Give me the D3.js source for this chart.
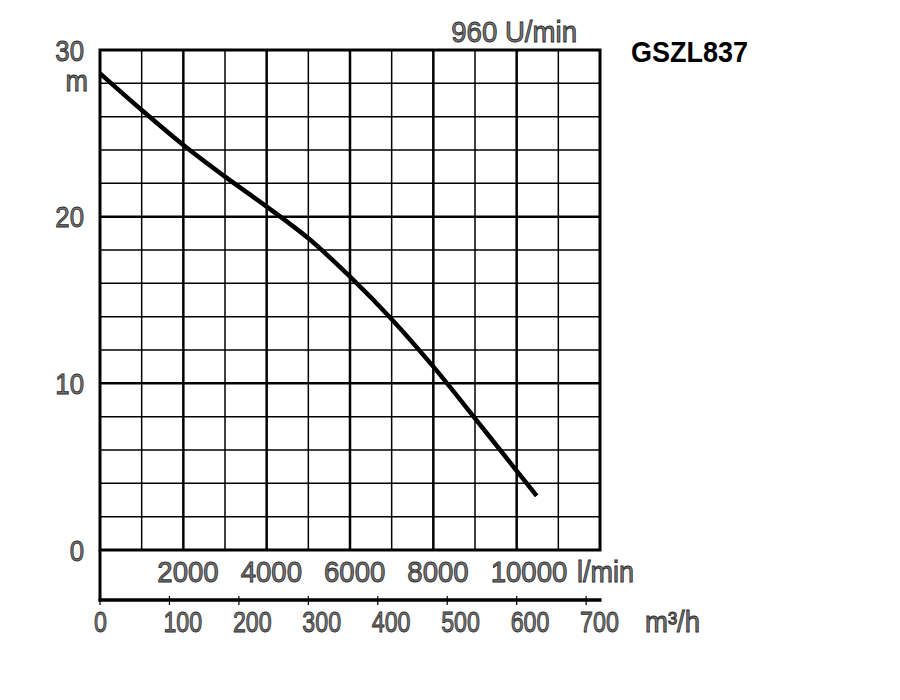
<!DOCTYPE html>
<html>
<head>
<meta charset="utf-8">
<script src="https://cdn.jsdelivr.net/npm/d3@7"></script>
<style>
  body { margin: 0; background: #fff; }
  text { font-family: Arial, "Liberation Sans", sans-serif; }
  .lbl { fill: #7a7a7a; stroke: #2a2a2a; stroke-width: 0.9px; }
</style>
</head>
<body>
<div id="chart"></div>
<script>
// pump curve GSZL837, 960 U/min
const flowLmin = [0, 1000, 2000, 3000, 4000, 5000, 6000, 7000, 8000, 9000, 10000, 10480];
const headM = [28.6, 26.4, 24.3, 22.4, 20.6, 18.7, 16.4, 13.85, 11.0, 7.9, 4.75, 3.25];

const headTicks = [0, 10, 20, 30];
const lminTicks = [2000, 4000, 6000, 8000, 10000];
const m3hTicks = [0, 100, 200, 300, 400, 500, 600, 700];

const width = 900, height = 700;
const plotLeft = 100, plotRight = 600, plotTop = 50, plotBottom = 550, bandBottom = 600;

const svg = d3.select("#chart")
  .append("svg")
  .attr("width", width)
  .attr("height", height);

const x = d3.scaleLinear().domain([0, 12000]).range([plotLeft, plotRight]);
const xm3 = d3.scaleLinear().domain([0, 720]).range([plotLeft, plotRight]);
const y = d3.scaleLinear().domain([0, 30]).range([plotBottom, plotTop]);

// grid: minor every 1000 l/min and 2 m, major every 2000 l/min and 10 m
const grid = svg.append("g");
d3.range(1000, 12000, 1000).forEach((v) => {
  grid.append("line")
    .attr("x1", x(v)).attr("x2", x(v))
    .attr("y1", y(30)).attr("y2", y(0))
    .attr("stroke", "#000")
    .attr("stroke-width", v % 2000 === 0 ? 2.5 : 1.5);
});
d3.range(2, 30, 2).forEach((v) => {
  grid.append("line")
    .attr("x1", x(0)).attr("x2", x(12000))
    .attr("y1", y(v)).attr("y2", y(v))
    .attr("stroke", "#000")
    .attr("stroke-width", v % 10 === 0 ? 2.5 : 1.5);
});

// frame
svg.append("rect")
  .attr("x", x(0)).attr("y", y(30))
  .attr("width", x(12000) - x(0))
  .attr("height", y(0) - y(30))
  .attr("fill", "none")
  .attr("stroke", "#000")
  .attr("stroke-width", 3);

// lower flow band
svg.append("line")
  .attr("x1", x(0)).attr("x2", x(0))
  .attr("y1", y(0)).attr("y2", bandBottom + 1.5)
  .attr("stroke", "#000").attr("stroke-width", 3);
svg.append("line")
  .attr("x1", x(0) - 1.5).attr("x2", x(12000) + 1.5)
  .attr("y1", bandBottom).attr("y2", bandBottom)
  .attr("stroke", "#000").attr("stroke-width", 3.5);

// m3/h ticks
svg.selectAll(".m3tick")
  .data(m3hTicks)
  .enter()
  .append("line")
  .attr("class", "m3tick")
  .attr("x1", (d) => xm3(d)).attr("x2", (d) => xm3(d))
  .attr("y1", bandBottom - 4).attr("y2", bandBottom + 5)
  .attr("stroke", "#000").attr("stroke-width", 1.2);

// pump curve
const line = d3.line()
  .x((d, i) => x(flowLmin[i]))
  .y((d) => y(d))
  .curve(d3.curveCatmullRom.alpha(0.5));

svg.append("path")
  .datum(headM)
  .attr("fill", "none")
  .attr("stroke", "#000")
  .attr("stroke-width", 4.5)
  .attr("d", line);

// head labels
svg.selectAll(".ylab")
  .data(headTicks)
  .enter()
  .append("text")
  .attr("class", "lbl ylab")
  .attr("transform", (d) => `translate(84,${y(d) + 10.5}) scale(0.86,1)`)
  .attr("text-anchor", "end")
  .attr("font-size", 30)
  .text((d) => d);

svg.append("text")
  .attr("class", "lbl")
  .attr("transform", "translate(88,91) scale(0.9,1)")
  .attr("text-anchor", "end")
  .attr("font-size", 30)
  .text("m");

// l/min labels
svg.selectAll(".lminlab")
  .data(lminTicks)
  .enter()
  .append("text")
  .attr("class", "lbl lminlab")
  .attr("transform", (d) => `translate(${x(d) - 26},582) scale(0.92,1)`)
  .attr("font-size", 30)
  .text((d) => d);

svg.append("text")
  .attr("class", "lbl")
  .attr("transform", "translate(577,582) scale(0.9,1)")
  .attr("font-size", 30)
  .text("l/min");

// m3/h labels
svg.selectAll(".m3lab")
  .data(m3hTicks)
  .enter()
  .append("text")
  .attr("class", "lbl m3lab")
  .attr("transform", (d) => `translate(${xm3(d) - 6},632) scale(0.8,1)`)
  .attr("font-size", 29)
  .text((d) => d);

svg.append("text")
  .attr("class", "lbl")
  .attr("transform", "translate(645,632) scale(0.95,1)")
  .attr("font-size", 29)
  .text("m³/h");

// speed and model
svg.append("text")
  .attr("class", "lbl")
  .attr("transform", "translate(577,41.5) scale(0.92,1)")
  .attr("text-anchor", "end")
  .attr("font-size", 30)
  .text("960 U/min");

svg.append("text")
  .attr("transform", "translate(631,61.5) scale(0.9,1)")
  .attr("font-size", 30)
  .attr("font-weight", "bold")
  .attr("fill", "#000")
  .text("GSZL837");
</script>
</body>
</html>
